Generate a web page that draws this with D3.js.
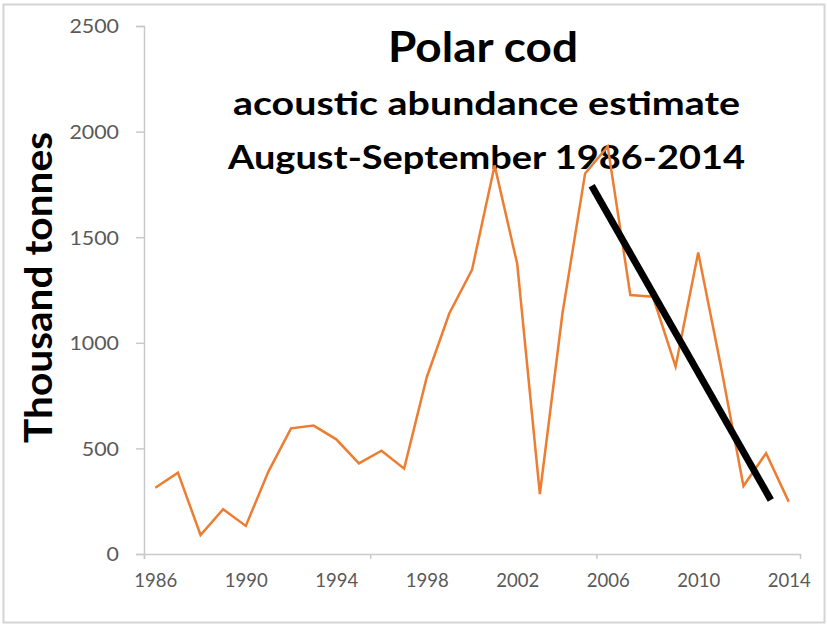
<!DOCTYPE html>
<html>
<head>
<meta charset="utf-8">
<script src="https://cdn.jsdelivr.net/npm/d3@7/dist/d3.min.js"></script>
<style>
  html, body { margin: 0; padding: 0; background: #ffffff; }
  svg { display: block; }
</style>
</head>
<body>
<script>
// Polar cod acoustic abundance estimate (thousand tonnes), Aug–Sep surveys
const years = [1986, 1987, 1988, 1989, 1990, 1991, 1992, 1993, 1994, 1995,
               1996, 1997, 1998, 1999, 2000, 2001, 2002, 2003, 2004, 2005,
               2006, 2007, 2008, 2009, 2010, 2011, 2012, 2013, 2014];
const biomass = [314, 385, 90, 212, 133, 390, 595, 608, 543, 429,
                 489, 404, 837, 1140, 1345, 1840, 1373, 284, 1140, 1802,
                 1930, 1226, 1218, 887, 1427, 890, 322, 477, 248];

// Hand-drawn declining trend line (start and end points)
const trendYears = [2005.29, 2013.21];
const trendValues = [1744, 256];

const yTicks = [0, 500, 1000, 1500, 2000, 2500];
const xLabelYears = [1986, 1990, 1994, 1998, 2002, 2006, 2010, 2014];
const xTickBounds = [1985.5, 1995.5, 2005.5];

const titleLines = ["Polar cod", "acoustic abundance estimate", "August-September 1986-2014"];
const yAxisTitle = "Thousand tonnes";

const W = 827, H = 627;
const svg = d3.select("body").append("svg").attr("width", W).attr("height", H);

// outer frame
svg.append("rect")
  .attr("x", 3.5).attr("y", 4.5).attr("width", 821).attr("height", 618)
  .attr("fill", "#ffffff").attr("stroke", "#d4d4d4").attr("stroke-width", 2);

const x = d3.scaleLinear().domain([1985.5, 2014.5]).range([144, 800]);
const y = d3.scaleLinear().domain([0, 2500]).range([554, 26]);

const axisColor = "#c9c9c9";
const labelColor = "#595959";

// y axis
const gy = svg.append("g").attr("transform", "translate(144,0)")
  .call(d3.axisLeft(y).tickValues(yTicks).tickSize(8).tickPadding(17).tickFormat(d3.format("d")));
gy.select(".domain").attr("stroke", axisColor).attr("stroke-width", 1.5);
gy.selectAll(".tick line").attr("stroke", axisColor).attr("stroke-width", 1.5);
gy.selectAll(".tick text")
  .attr("fill", labelColor)
  .style("font-family", "Lato, 'Open Sans', sans-serif")
  .style("font-size", "19px")
  .attr("dy", "0.36em")
  .attr("textLength", d => String(d).length * 12.4)
  .attr("lengthAdjust", "spacingAndGlyphs");

// x axis: tick marks at every tenth category boundary
const gxTicks = svg.append("g").attr("transform", "translate(0,554)")
  .call(d3.axisBottom(x).tickValues(xTickBounds).tickSize(5).tickFormat(""));
gxTicks.select(".domain").attr("stroke", axisColor).attr("stroke-width", 1.5);
gxTicks.selectAll(".tick line").attr("stroke", axisColor).attr("stroke-width", 1.5);

// x axis labels every fourth year
const gxLabels = svg.append("g").attr("transform", "translate(0,554)")
  .call(d3.axisBottom(x).tickValues(xLabelYears).tickSize(0).tickFormat(d3.format("d")));
gxLabels.select(".domain").remove();
gxLabels.selectAll(".tick text")
  .attr("fill", labelColor)
  .attr("y", 33).attr("dy", null)
  .style("font-family", "Lato, 'Open Sans', sans-serif")
  .style("font-size", "19px")
  .attr("textLength", 43)
  .attr("lengthAdjust", "spacingAndGlyphs");

// y axis title
svg.append("text")
  .attr("transform", "translate(52,287.5) rotate(-90)")
  .attr("text-anchor", "middle")
  .style("font-family", "Lato, sans-serif")
  .style("font-weight", "bold")
  .style("font-size", "38px")
  .attr("fill", "#000")
  .attr("textLength", 311)
  .attr("lengthAdjust", "spacingAndGlyphs")
  .text(yAxisTitle);

// chart title block
const titleSpecs = [
  { x: 388, y: 62, size: 42, len: 190 },
  { x: 233, y: 115, size: 32, len: 507 },
  { x: 228, y: 169, size: 32, len: 517 }
];
titleLines.forEach((t, i) => {
  const s = titleSpecs[i];
  svg.append("text")
    .attr("x", s.x).attr("y", s.y)
    .style("font-family", "Lato, sans-serif")
    .style("font-weight", "bold")
    .style("font-size", s.size + "px")
    .attr("fill", "#000")
    .attr("textLength", s.len)
    .attr("lengthAdjust", "spacingAndGlyphs")
    .text(t);
});

// data series
const series = years.map((yr, i) => ({ yr, v: biomass[i] }));
const line = d3.line().x(d => x(d.yr)).y(d => y(d.v));
svg.append("path")
  .datum(series)
  .attr("d", line)
  .attr("fill", "none")
  .attr("stroke", "#ED7D31")
  .attr("stroke-width", 2.5)
  .attr("stroke-linejoin", "miter");

// trend line
const trend = trendYears.map((yr, i) => ({ yr, v: trendValues[i] }));
svg.append("path")
  .datum(trend)
  .attr("d", line)
  .attr("fill", "none")
  .attr("stroke", "#000")
  .attr("stroke-width", 7)
  .attr("stroke-linecap", "butt");
</script>
</body>
</html>
